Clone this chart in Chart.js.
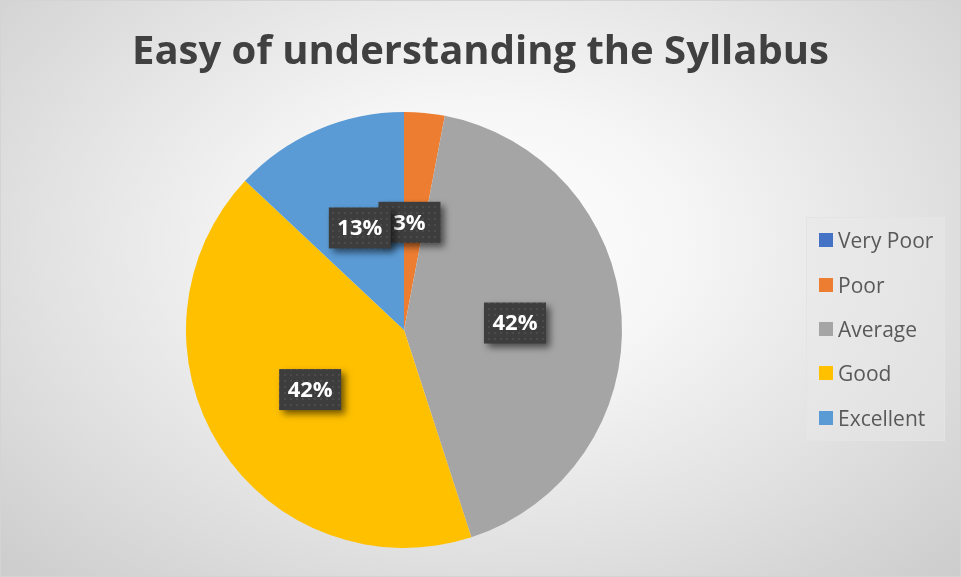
<!DOCTYPE html>
<html>
<head>
<meta charset="utf-8">
<script src="https://cdn.jsdelivr.net/npm/chart.js@4.4.1/dist/chart.umd.min.js"></script>
<style>
  body { margin: 0; }
  .chart-container {
    position: relative;
    width: 961px;
    height: 577px;
    overflow: hidden;
    background: radial-gradient(ellipse 70% 80% at 50% 42%, #ffffff 0%, #f6f6f6 30%, #e2e2e2 65%, #cdcdcd 100%);
    box-shadow: inset 0 0 0 1px #d4d4d4;
  }
  #syllabus-chart { position: absolute; left: 0; top: 0; }
  .chart-title {
    position: absolute;
    left: 0;
    top: 25px;
    width: 961px;
    text-align: center;
    font-family: 'Open Sans', sans-serif;
    font-weight: bold;
    font-size: 40px;
    line-height: 48px;
    color: #404040;
  }
  .chart-legend {
    position: absolute;
    left: 806px;
    top: 217px;
    width: 139px;
    height: 224px;
    box-sizing: border-box;
    border: 1px solid #e4e4e4;
    background: rgba(232, 232, 232, 0.45);
    padding-left: 12px;
  }
  .legend-item {
    display: flex;
    align-items: center;
    height: 44.4px;
    font-family: 'Open Sans', sans-serif;
    font-size: 21px;
    color: #595959;
    white-space: nowrap;
  }
  .legend-color {
    width: 14px;
    height: 14px;
    margin-right: 5px;
  }
</style>
</head>
<body>
<div class="chart-container">
  <canvas id="syllabus-chart" width="961" height="577"></canvas>
  <div class="chart-title">Easy of understanding the Syllabus</div>
</div>
<script>
  // Dados do gráfico
  const categories = ['Very Poor', 'Poor', 'Average', 'Good', 'Excellent'];
  const responses = [0, 3, 42, 42, 13];
  const sliceColors = ['#4472C4', '#ED7D31', '#A5A5A5', '#FFC000', '#5B9BD5'];

  // Padrão pontilhado das caixas de rótulo
  function makeDotPattern(ctx) {
    const c = document.createElement('canvas');
    c.width = 6; c.height = 6;
    const p = c.getContext('2d');
    p.fillStyle = '#3d3d3d';
    p.fillRect(0, 0, 6, 6);
    p.fillStyle = '#4b4b4b';
    p.fillRect(2, 2, 2, 2);
    return ctx.createPattern(c, 'repeat');
  }

  // Rótulos de porcentagem em caixas escuras
  const percentLabels = {
    id: 'percentLabels',
    afterDatasetsDraw(chart) {
      const ctx = chart.ctx;
      const meta = chart.getDatasetMeta(0);
      const values = chart.data.datasets[0].data;
      const total = values.reduce((a, b) => a + b, 0);
      const pattern = makeDotPattern(ctx);
      const boxW = 62, boxH = 41;

      meta.data.forEach((arc, i) => {
        const v = values[i];
        if (!v) return;
        const p = arc.getProps(['x', 'y', 'startAngle', 'endAngle', 'outerRadius'], true);
        const mid = (p.startAngle + p.endAngle) / 2;
        const r = p.outerRadius * 0.51;
        let cx = p.x + Math.cos(mid) * r;
        let cy = p.y + Math.sin(mid) * r;
        // fatia pequena: o Excel empurra o rótulo um pouco
        if (v / total < 0.05) { cx -= 5; cy += 3; }

        ctx.save();
        ctx.shadowColor = 'rgba(0,0,0,0.55)';
        ctx.shadowBlur = 7;
        ctx.shadowOffsetX = 4;
        ctx.shadowOffsetY = 4;
        ctx.fillStyle = pattern;
        ctx.fillRect(cx - boxW / 2, cy - boxH / 2, boxW, boxH);
        ctx.restore();

        ctx.save();
        ctx.fillStyle = '#ffffff';
        ctx.font = 'bold 22px "Open Sans"';
        ctx.textAlign = 'center';
        ctx.textBaseline = 'middle';
        ctx.fillText(Math.round(v / total * 100) + '%', cx, cy + 1);
        ctx.restore();
      });
    }
  };

  const ctx = document.getElementById('syllabus-chart').getContext('2d');
  const chart = new Chart(ctx, {
    type: 'pie',
    data: {
      labels: categories,
      datasets: [{
        data: responses,
        backgroundColor: sliceColors,
        borderWidth: 0,
        hoverOffset: 0
      }]
    },
    options: {
      responsive: false,
      animation: false,
      events: [],
      layout: {
        padding: { left: 186, right: 339, top: 112, bottom: 29 }
      },
      plugins: {
        legend: { display: false },
        tooltip: { enabled: false },
        title: { display: false }
      }
    },
    plugins: [percentLabels]
  });

  // Legenda personalizada
  function createCustomLegend() {
    const legendContainer = document.createElement('div');
    legendContainer.className = 'chart-legend';

    categories.forEach((category, i) => {
      const legendItem = document.createElement('div');
      legendItem.className = 'legend-item';

      const colorBox = document.createElement('div');
      colorBox.className = 'legend-color';
      colorBox.style.backgroundColor = sliceColors[i];

      const label = document.createElement('span');
      label.textContent = category;

      legendItem.appendChild(colorBox);
      legendItem.appendChild(label);
      legendContainer.appendChild(legendItem);
    });

    document.querySelector('.chart-container').appendChild(legendContainer);
  }

  createCustomLegend();
</script>
</body>
</html>
